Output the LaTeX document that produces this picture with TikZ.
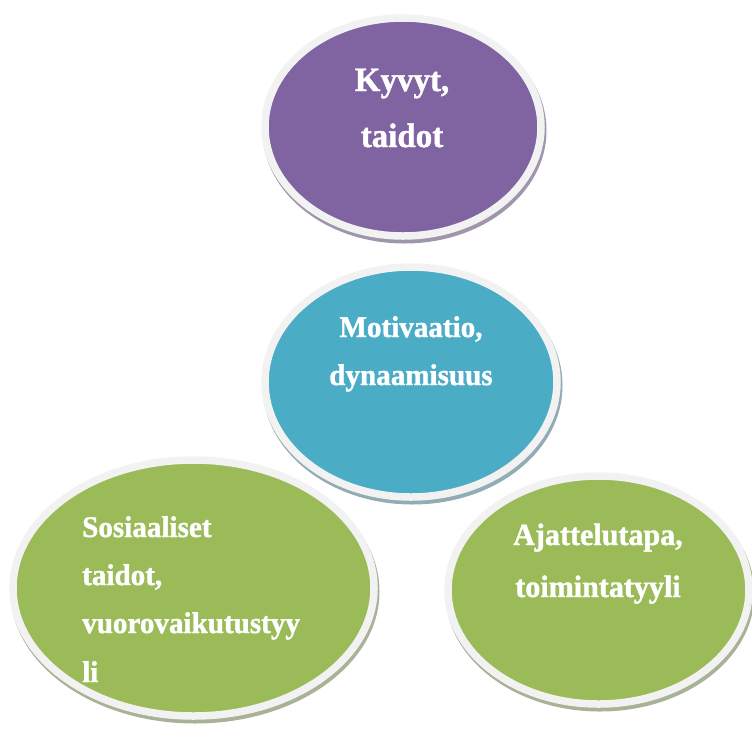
\documentclass[tikz,border=0pt]{standalone}
\usepackage{fontspec}
\setmainfont{Liberation Serif}[BoldFeatures={FakeBold=1.3,FakeStretch=0.97}]
\usetikzlibrary{shapes.geometric}
\definecolor{cpurple}{RGB}{128,100,162}
\definecolor{cblue}{RGB}{75,172,198}
\definecolor{cgreen}{RGB}{155,187,89}
\definecolor{cring}{RGB}{242,242,242}
\definecolor{shpurple}{RGB}{160,150,172}
\definecolor{shblue}{RGB}{145,172,180}
\definecolor{shgreen}{RGB}{168,178,150}
\tikzset{
  blob/.style={ellipse, inner sep=0pt, draw=cring, line width=7.5pt},
  blobshadow/.style={ellipse, inner sep=0pt, draw=none},
  lbl/.style={text=white, font=\bfseries\fontsize{#1}{#1}\selectfont, inner sep=0pt},
}
\begin{document}
\begin{tikzpicture}[x=1pt,y=-1pt]
\useasboundingbox (0,0) rectangle (752,740);
% purple
\node[blobshadow, fill=shpurple, minimum width=284pt, minimum height=226pt] (sp) at (404.5,130.5) {};
\node[blob, fill=cpurple, minimum width=276pt, minimum height=218pt] (kyvyt) at (403,127) {};
% green left
\node[blobshadow, fill=shgreen, minimum width=369pt, minimum height=264pt] (sgl) at (195,591.5) {};
\node[blob, fill=cgreen, minimum width=361pt, minimum height=256pt] (sos) at (193.5,588) {};
% green right
\node[blobshadow, fill=shgreen, minimum width=309pt, minimum height=236pt] (sgr) at (600,593.5) {};
\node[blob, fill=cgreen, minimum width=301pt, minimum height=228pt] (ajat) at (598.5,590) {};
% blue
\node[blobshadow, fill=shblue, minimum width=300pt, minimum height=238pt] (sb) at (412.5,385.5) {};
\node[blob, fill=cblue, minimum width=292pt, minimum height=230pt] (moti) at (411,382) {};
% texts
\node[lbl=34, anchor=base] (t1) at (402,91) {Kyvyt,};
\node[lbl=34, anchor=base] (t2) at (402,147) {taidot};
\node[lbl=30, anchor=base] (t3) at (411,337) {Motivaatio,};
\node[lbl=30, anchor=base] (t4) at (411,385) {dynaamisuus};
\node[lbl=30, anchor=base west] (t5) at (82,537) {Sosiaaliset};
\node[lbl=30, anchor=base west] (t6) at (82,585) {taidot,};
\node[lbl=30, anchor=base west] (t7) at (82,633) {vuorovaikutustyy};
\node[lbl=30, anchor=base west] (t8) at (82,682) {li};
\node[lbl=31, anchor=base] (t9) at (598,545) {Ajattelutapa,};
\node[lbl=31, anchor=base] (t10) at (598,597) {toimintatyyli};
\end{tikzpicture}
\end{document}
